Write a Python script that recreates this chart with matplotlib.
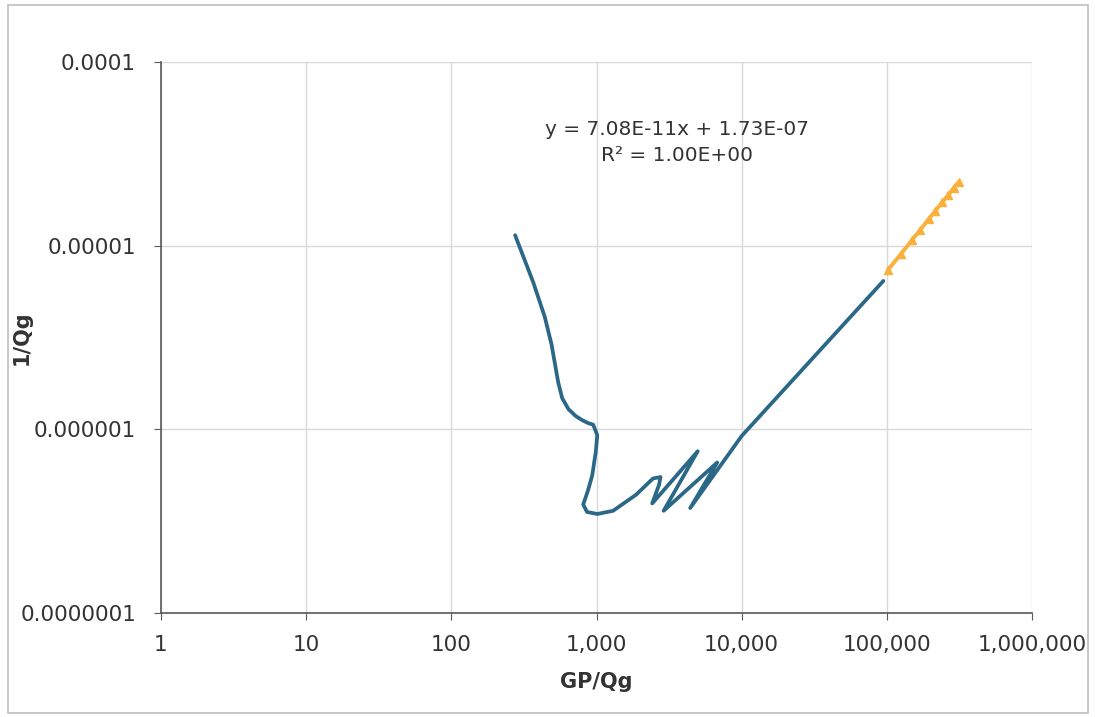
import numpy as np
import matplotlib.pyplot as plt
from matplotlib.patches import Rectangle
from matplotlib.ticker import FixedLocator, FuncFormatter

plt.rcParams['font.family'] = ['DejaVu Sans']

# early-time data (GP/Qg vs 1/Qg)
gp_qg = [275, 366, 440, 490, 519, 545, 580, 640, 720, 800, 880, 949, 1012,
         990, 934, 870, 810, 860, 1012, 1300, 1870, 2450, 2760, 2700, 2420,
         4980, 2900, 6790, 4420, 10000, 29700, 94700]
inv_qg = [1.14e-5, 6.34e-6, 4.1e-6, 2.9e-6, 2.24e-6, 1.8e-6, 1.48e-6,
          1.29e-6, 1.18e-6, 1.12e-6, 1.08e-6, 1.06e-6, 9.3e-7, 7.6e-7,
          5.6e-7, 4.6e-7, 3.9e-7, 3.55e-7, 3.46e-7, 3.6e-7, 4.4e-7, 5.4e-7,
          5.5e-7, 5.0e-7, 3.95e-7, 7.6e-7, 3.6e-7, 6.6e-7, 3.73e-7, 9.2e-7,
          2.36e-6, 6.43e-6]

# late-time (fitted) points
gp_qg_fit = [102000, 125000, 150000, 170000, 195000, 215000, 240000, 265000,
             290000, 312000]
inv_qg_fit = [7.4e-6, 9.0e-6, 1.08e-5, 1.22e-5, 1.40e-5, 1.54e-5, 1.72e-5,
              1.89e-5, 2.07e-5, 2.22e-5]

fit_label = 'y = 7.08E-11x + 1.73E-07\nR² = 1.00E+00'

x_ticks = [1, 10, 100, 1000, 10000, 100000, 1000000]
y_ticks = [1e-7, 1e-6, 1e-5, 1e-4]
y_tick_labels = ['0.0000001', '0.000001', '0.00001', '0.0001']

fig = plt.figure(figsize=(10.95, 7.17), dpi=100)
ax = fig.add_axes([161 / 1095, 1 - 613 / 717, 871 / 1095, 551 / 717])

ax.plot(gp_qg, inv_qg, color='#2b6888', lw=2.7, solid_joinstyle='round',
        solid_capstyle='round', zorder=3)
ax.plot(gp_qg_fit, inv_qg_fit, color='#fbb03b', lw=2.8, marker='^',
        markersize=5.5, solid_capstyle='round', zorder=4)

ax.set_xscale('log')
ax.set_yscale('log')
ax.set_xlim(1, 1e6)
ax.set_ylim(1e-7, 1e-4)

ax.xaxis.set_major_locator(FixedLocator(x_ticks))
ax.xaxis.set_minor_locator(FixedLocator([]))
ax.xaxis.set_major_formatter(FuncFormatter(lambda v, p: f'{v:,.0f}'))
ax.yaxis.set_major_locator(FixedLocator(y_ticks))
ax.yaxis.set_minor_locator(FixedLocator([]))
ax.set_yticklabels(y_tick_labels)

ax.grid(True, color='#d9d9d9', lw=1.0)
ax.set_axisbelow(True)
for s in ['top', 'right']:
    ax.spines[s].set_visible(False)
for s in ['left', 'bottom']:
    ax.spines[s].set_color('#595959')
    ax.spines[s].set_linewidth(1.2)
ax.tick_params(axis='both', direction='out', length=5, color='#595959',
               labelsize=15.5, labelcolor='#333333')
ax.tick_params(axis='y', pad=13)
ax.tick_params(axis='x', pad=11)

ax.set_xlabel('GP/Qg', fontsize=15, fontweight='bold', color='#333333')
ax.set_ylabel('1/Qg', fontsize=15, fontweight='bold', color='#333333')
ax.xaxis.set_label_coords(0.5, -0.107)
ax.yaxis.set_label_coords(-0.148, 0.5)

ax.text(0.592, 0.854, fit_label, transform=ax.transAxes, ha='center',
        va='center', fontsize=14.5, color='#333333', linespacing=1.5)

fig.patches.append(Rectangle((8 / 1095, 4 / 717), 1080 / 1095, 708 / 717,
                             transform=fig.transFigure, fill=False,
                             edgecolor='#bfbfbf', lw=1.2))

fig.savefig('out.png', dpi=100)
